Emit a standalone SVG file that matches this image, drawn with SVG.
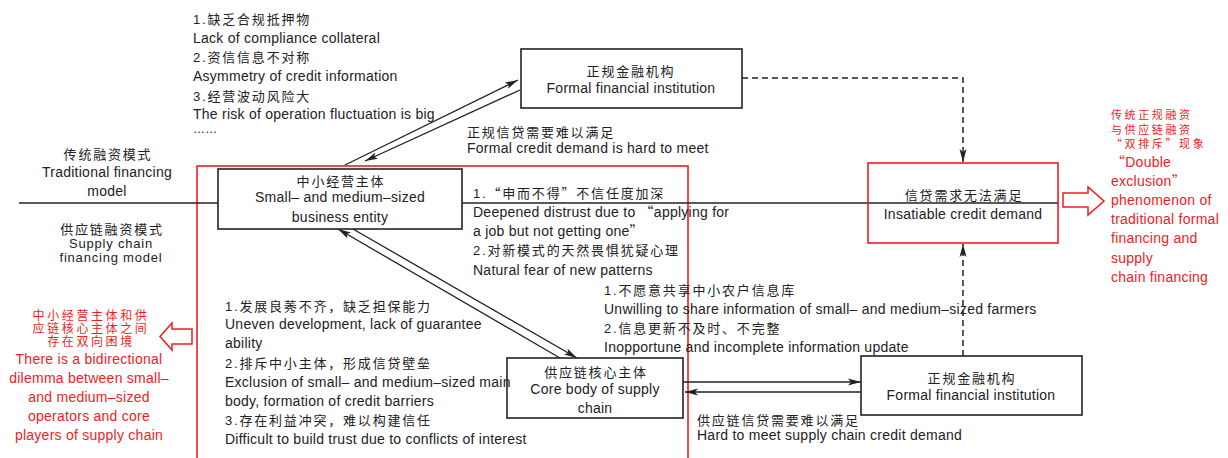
<svg xmlns="http://www.w3.org/2000/svg" width="1228" height="458" viewBox="0 0 1228 458">
<style>
text{font-family:"Liberation Sans","Noto Sans CJK SC",Arial,sans-serif;font-size:14px;letter-spacing:0.25px;fill:#222}
.zh{font-size:13px;letter-spacing:1.8px}
.q{font-family:"Noto Sans CJK SC",sans-serif}
.c{text-anchor:middle}
.r{fill:#ee1c24}
.rz{font-size:11px;letter-spacing:2.6px}
.lz{font-size:12px;letter-spacing:2.6px}
.box{fill:#fff;stroke:#222;stroke-width:1.6}
.rbox{fill:none;stroke:#ee1c24;stroke-width:1.6}
.ln{fill:none;stroke:#222;stroke-width:1.3}
.dash{fill:none;stroke:#222;stroke-width:1.5;stroke-dasharray:6,4}
</style>
<defs>
<marker id="ah" markerUnits="userSpaceOnUse" markerWidth="14" markerHeight="8" refX="13" refY="4" orient="auto">
<path d="M0,0.5 L13,4 L0,7.5 L3,4 z" fill="#222"/>
</marker>
</defs>
<rect width="1228" height="458" fill="#fff"/>

<g id="region-supply">
<rect class="rbox" x="197" y="166" width="491" height="300"/>
</g>

<g id="connectors">
<line class="ln" x1="19" y1="203" x2="218" y2="203"/>
<line class="ln" x1="462" y1="203" x2="1058" y2="203"/>
<line class="ln" x1="345" y1="165" x2="518" y2="80" marker-end="url(#ah)"/>
<line class="ln" x1="520" y1="90" x2="365" y2="161" marker-end="url(#ah)"/>
<line class="ln" x1="560" y1="358" x2="338" y2="229" marker-end="url(#ah)"/>
<line class="ln" x1="353" y1="229" x2="577" y2="358" marker-end="url(#ah)"/>
<line class="ln" x1="683" y1="382" x2="861" y2="382" marker-end="url(#ah)"/>
<line class="ln" x1="861" y1="392" x2="685" y2="392" marker-end="url(#ah)"/>
<path class="dash" d="M742,78 H963 V162" marker-end="url(#ah)"/>
<path class="dash" d="M963,356 V244" marker-end="url(#ah)"/>
</g>

<g id="node-formal-top">
<rect class="box" x="521" y="49" width="221" height="59"/>
<text class="c zh" x="631" y="76">正规金融机构</text>
<text class="c" x="631" y="93">Formal financial institution</text>
</g>

<g id="node-sme">
<rect class="box" x="218" y="169" width="244" height="60"/>
<text class="c zh" x="341" y="186">中小经营主体</text>
<text class="c" x="340" y="202">Small– and medium–sized</text>
<text class="c" x="340" y="222">business entity</text>
</g>

<g id="node-insatiable">
<rect class="rbox" x="868" y="163" width="190" height="80"/>
<text class="c zh" x="964" y="200">信贷需求无法满足</text>
<text class="c" x="963" y="219">Insatiable credit demand</text>
</g>

<g id="node-core">
<rect class="box" x="507" y="358" width="176" height="60"/>
<text class="c zh" x="596" y="377">供应链核心主体</text>
<text class="c" x="595" y="394">Core body of supply</text>
<text class="c" x="595" y="413">chain</text>
</g>

<g id="node-formal-bottom">
<rect class="box" x="861" y="356" width="221" height="59"/>
<text class="c zh" x="972" y="383">正规金融机构</text>
<text class="c" x="971" y="400">Formal financial institution</text>
</g>

<g id="label-top-reasons">
<text class="zh" x="193" y="24">1.缺乏合规抵押物</text>
<text x="193" y="43">Lack of compliance collateral</text>
<text class="zh" x="193" y="62">2.资信信息不对称</text>
<text x="193" y="81">Asymmetry of credit information</text>
<text class="zh" x="193" y="101">3.经营波动风险大</text>
<text x="193" y="119">The risk of operation fluctuation is big</text>
<text x="193" y="133" style="font-size:12px">……</text>
</g>

<g id="label-formal-demand">
<text class="zh" x="467" y="137">正规信贷需要难以满足</text>
<text x="467" y="153">Formal credit demand is hard to meet</text>
</g>

<g id="label-modes">
<text class="c zh" x="108" y="159">传统融资模式</text>
<text class="c" x="107" y="177">Traditional financing</text>
<text class="c" x="107" y="196">model</text>
<text class="c zh" x="112" y="234">供应链融资模式</text>
<text class="c" x="111" y="248" style="font-size:13px;letter-spacing:0.8px">Supply chain</text>
<text class="c" x="111" y="262" style="font-size:13px;letter-spacing:0.8px">financing model</text>
</g>

<g id="label-distrust">
<text class="zh" x="473" y="198">1.<tspan class="q">“</tspan>申而不得<tspan class="q">”</tspan>不信任度加深</text>
<text x="473" y="217">Deepened distrust due to <tspan class="q">“</tspan>applying for</text>
<text x="473" y="236">a job but not getting one<tspan class="q">”</tspan></text>
<text class="zh" x="473" y="255">2.对新模式的天然畏惧犹疑心理</text>
<text x="473" y="275">Natural fear of new patterns</text>
</g>

<g id="label-share">
<text class="zh" x="604" y="295">1.不愿意共享中小农户信息库</text>
<text x="604" y="314">Unwilling to share information of small– and medium–sized farmers</text>
<text class="zh" x="604" y="333">2.信息更新不及时、不完整</text>
<text x="604" y="352">Inopportune and incomplete information update</text>
</g>

<g id="label-core-reasons">
<text class="zh" x="225" y="311">1.发展良莠不齐，缺乏担保能力</text>
<text x="225" y="329">Uneven development, lack of guarantee</text>
<text x="225" y="348">ability</text>
<text class="zh" x="225" y="368">2.排斥中小主体，形成信贷壁垒</text>
<text x="225" y="387">Exclusion of small– and medium–sized main</text>
<text x="225" y="406">body, formation of credit barriers</text>
<text class="zh" x="225" y="425">3.存在利益冲突，难以构建信任</text>
<text x="225" y="444">Difficult to build trust due to conflicts of interest</text>
</g>

<g id="label-sc-demand">
<text class="zh" x="697" y="425">供应链信贷需要难以满足</text>
<text x="697" y="440">Hard to meet supply chain credit demand</text>
</g>

<g id="note-left">
<path d="M192,329 H172 V323 L160,336.5 L172,350 V344 H192 z" fill="#fff" stroke="#ee1c24" stroke-width="1.5"/>
<text class="c lz r" x="91" y="320">中小经营主体和供</text>
<text class="c lz r" x="91" y="333">应链核心主体之间</text>
<text class="c lz r" x="91" y="346">存在双向困境</text>
<text class="c r" x="89" y="364">There is a bidirectional</text>
<text class="c r" x="89" y="383">dilemma between small–</text>
<text class="c r" x="89" y="402">and medium–sized</text>
<text class="c r" x="89" y="421">operators and core</text>
<text class="c r" x="89" y="440">players of supply chain</text>
</g>

<g id="note-right">
<path d="M1063,193 H1088 V187 L1104,201 L1088,215 V207 H1063 z" fill="#fff" stroke="#ee1c24" stroke-width="1.5"/>
<text class="r rz" x="1111" y="119">传统正规融资</text>
<text class="r rz" x="1111" y="134">与供应链融资</text>
<text class="r rz" x="1111" y="148"><tspan class="q">“</tspan>双排斥<tspan class="q">”</tspan>现象</text>
<text class="r" x="1111" y="167"><tspan class="q">“</tspan>Double</text>
<text class="r" x="1111" y="186">exclusion<tspan class="q">”</tspan></text>
<text class="r" x="1111" y="205">phenomenon of</text>
<text class="r" x="1111" y="224">traditional formal</text>
<text class="r" x="1111" y="243">financing and</text>
<text class="r" x="1111" y="263">supply</text>
<text class="r" x="1111" y="282">chain financing</text>
</g>
</svg>
